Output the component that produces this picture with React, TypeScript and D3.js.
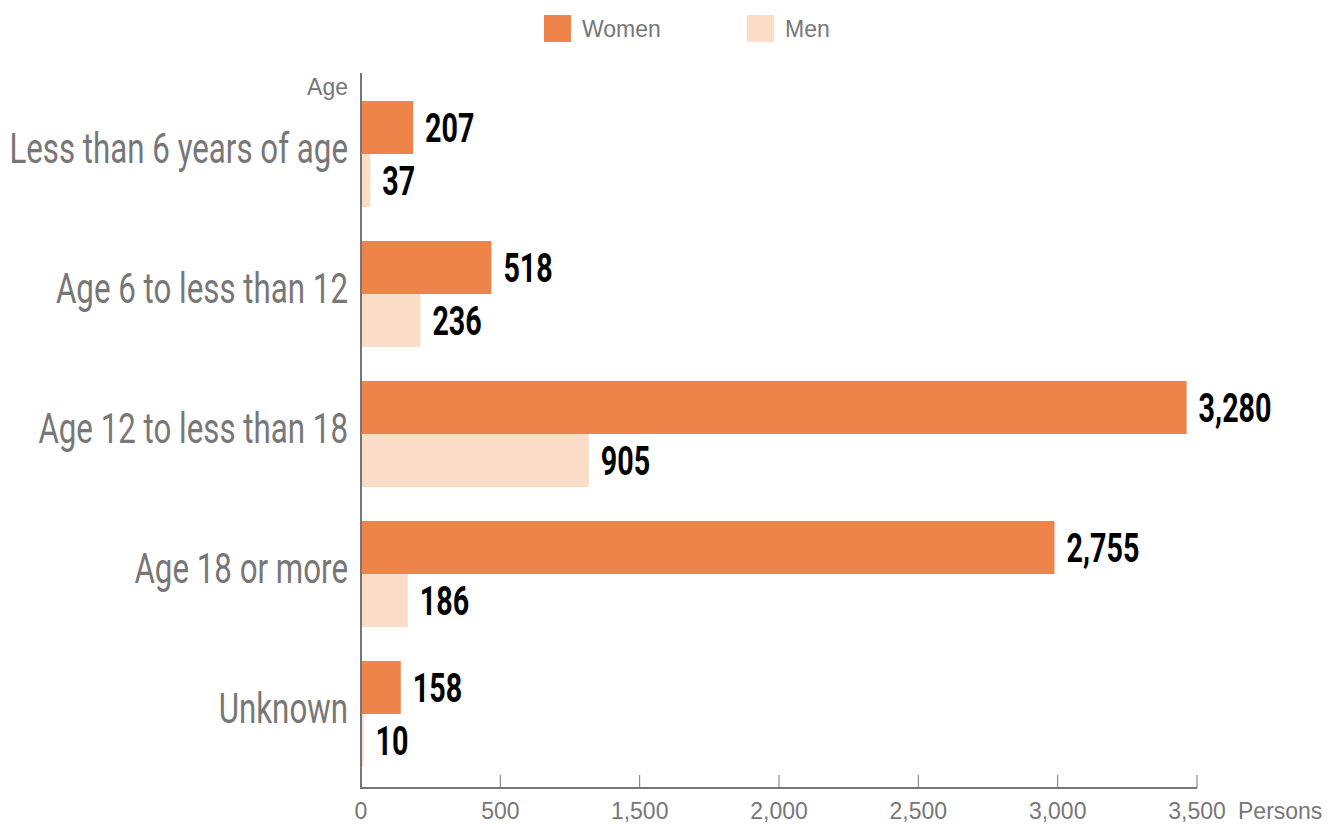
import React from "react";
import * as d3 from "d3";

const categories = [
  "Less than 6 years of age",
  "Age 6 to less than 12",
  "Age 12 to less than 18",
  "Age 18 or more",
  "Unknown",
];
const women = [207, 518, 3280, 2755, 158];
const men = [37, 236, 905, 186, 10];
const tickLabels = ["0", "500", "1,500", "2,000", "2,500", "3,000", "3,500"];
const seriesNames = ["Women", "Men"];

const W = 1341;
const H = 824;
const X0 = 361;
const AXIS_Y = 788;
const COLORS = ["#EF844B", "#FBDDC8"];
const GRAY = "#777777";

export default function App() {
  const x = d3.scaleLinear().domain([0, 3500]).range([X0, 1242]);
  const y = d3
    .scaleBand<string>()
    .domain(categories)
    .range([84, 784])
    .paddingInner(0.243)
    .paddingOuter(0.1215);
  const sub = d3.scaleBand<string>().domain(seriesNames).range([0, y.bandwidth()]);
  const tx = d3.scalePoint<string>().domain(tickLabels).range([X0, 1197]);
  const fmt = d3.format(",");

  const series = [women, men];

  return (
    <svg
      width={W}
      height={H}
      style={{ position: "absolute", left: 0, top: 0, display: "block", background: "#fff" }}
    >
      {/* legend */}
      {seriesNames.map((s, i) => (
        <g key={s} transform={`translate(${544 + i * 203},15)`}>
          <rect width={27} height={27} fill={COLORS[i]} />
          <text
            x={38}
            y={22}
            fontFamily="Liberation Sans, Arial, sans-serif"
            fontSize={23}
            fill={GRAY}
          >
            {s}
          </text>
        </g>
      ))}

      {/* bars */}
      {categories.map((c, ci) => (
        <g key={c}>
          {series.map((vals, si) => {
            const y0 = (y(c) as number) + (sub(seriesNames[si]) as number);
            const bw = sub.bandwidth();
            const xe = x(vals[ci]);
            return (
              <g key={si}>
                <rect x={X0} y={y0} width={xe - X0} height={bw} fill={COLORS[si]} />
                <text
                  transform={`translate(${xe + 12},${y0 + bw / 2 + 14.5}) scale(0.7,1)`}
                  fontFamily="Roboto, sans-serif"
                  fontWeight={700}
                  fontSize={41}
                  fill="#000"
                >
                  {fmt(vals[ci])}
                </text>
              </g>
            );
          })}
          <text
            transform={`translate(348,${(y(c) as number) + y.bandwidth() / 2 + 9}) scale(0.745,1)`}
            textAnchor="end"
            fontFamily="Roboto, sans-serif"
            fontSize={42}
            fill={GRAY}
          >
            {c}
          </text>
        </g>
      ))}

      {/* axes */}
      <line x1={X0} x2={X0} y1={73} y2={AXIS_Y + 1} stroke={GRAY} strokeWidth={2} />
      <line x1={X0} x2={tx.range()[1]} y1={AXIS_Y} y2={AXIS_Y} stroke={GRAY} strokeWidth={2} />
      {tickLabels.map((t) => (
        <g key={t} transform={`translate(${tx(t)},0)`}>
          <line y1={AXIS_Y - 13} y2={AXIS_Y} stroke={GRAY} strokeWidth={1} />
          <text
            y={AXIS_Y + 31}
            textAnchor="middle"
            fontFamily="Liberation Sans, Arial, sans-serif"
            fontSize={23}
            fill={GRAY}
          >
            {t}
          </text>
        </g>
      ))}
      <text x={1238} y={AXIS_Y + 31} fontFamily="Liberation Sans, Arial, sans-serif" fontSize={23} fill={GRAY}>
        Persons
      </text>
      <text x={348} y={95} textAnchor="end" fontFamily="Liberation Sans, Arial, sans-serif" fontSize={23} fill={GRAY}>
        Age
      </text>
    </svg>
  );
}
